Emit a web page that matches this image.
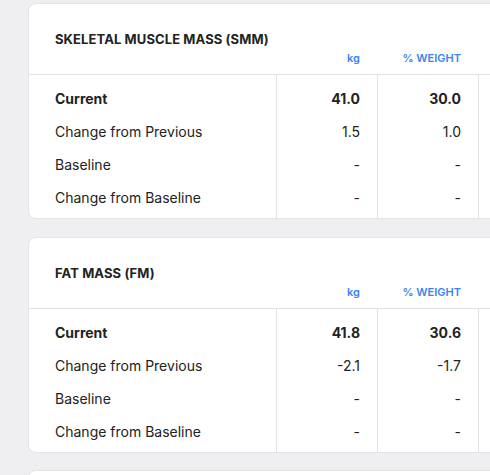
<!DOCTYPE html>
<html lang="en">
<head>
    <meta charset="UTF-8">
    <title>Body Composition</title>
    <script src="https://cdn.jsdelivr.net/npm/chart.js"></script>
    <style>
        body { margin: 0; width: 490px; height: 475px; overflow: hidden; background: #efeff1; font-family: Inter, "Noto Sans", sans-serif; color: #222; }
        .card { position: absolute; left: 28px; width: 480px; background: #fff; border-radius: 8px; border: 1px solid #e4e4e7; box-sizing: border-box; }
        .title { position: absolute; left: 26px; top: 27px; font-size: 13px; font-weight: 700; letter-spacing: 0.1px; }
        .hdr { position: absolute; top: 47px; font-size: 11px; font-weight: 600; color: #3b82f6; text-align: right; }
        .hline { position: absolute; left: 0; right: 0; top: 70px; border-top: 1px solid #e2e2e5; }
        .vline { position: absolute; top: 70px; bottom: 0; border-left: 1px solid #e2e2e5; }
        .lbl { position: absolute; left: 26px; font-size: 14px; }
        .val { position: absolute; font-size: 14px; text-align: right; width: 80px; }
        .bold { font-weight: 700; }
    </style>
</head>
<body>
    <div id="cards"></div>

    <script>
        // Table data
        const rowLabels = ["Current", "Change from Previous", "Baseline", "Change from Baseline"];
        const columns = ["kg", "% WEIGHT"];
        const smmKg = ["41.0", "1.5", "-", "-"];
        const smmPct = ["30.0", "1.0", "-", "-"];
        const fmKg = ["41.8", "-2.1", "-", "-"];
        const fmPct = ["30.6", "-1.7", "-", "-"];

        const sections = [
            { title: "SKELETAL MUSCLE MASS (SMM)", top: 3, cols: [smmKg, smmPct] },
            { title: "FAT MASS (FM)", top: 237, cols: [fmKg, fmPct] }
        ];

        const container = document.getElementById('cards');
        // column right edges inside the card
        const colRight = [331, 432];

        sections.forEach(function (s) {
            const card = document.createElement('div');
            card.className = 'card';
            card.style.top = s.top + 'px';
            card.style.height = '216px';
            let html = '<div class="title">' + s.title + '</div>';
            columns.forEach(function (c, i) {
                html += '<div class="hdr" style="left:' + (colRight[i] - 100) + 'px;width:100px">' + c + '</div>';
            });
            html += '<div class="hline"></div>';
            [247, 348, 449].forEach(function (x) {
                html += '<div class="vline" style="left:' + x + 'px"></div>';
            });
            rowLabels.forEach(function (r, j) {
                const y = 86 + j * 33;
                const b = j === 0 ? ' bold' : '';
                html += '<div class="lbl' + b + '" style="top:' + y + 'px">' + r + '</div>';
                s.cols.forEach(function (col, i) {
                    html += '<div class="val' + b + '" style="top:' + y + 'px;left:' + (colRight[i] - 80) + 'px">' + col[j] + '</div>';
                });
            });
            card.innerHTML = html;
            container.appendChild(card);
        });

        const third = document.createElement('div');
        third.className = 'card';
        third.style.top = '470px';
        third.style.height = '100px';
        container.appendChild(third);
    </script>
</body>
</html>
